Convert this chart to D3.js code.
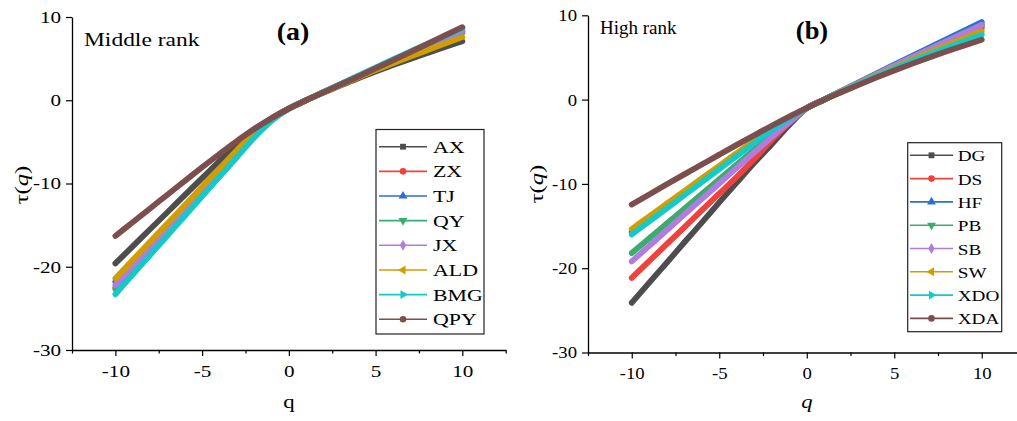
<!DOCTYPE html>
<html>
<head>
<meta charset="utf-8">
<script src="https://cdn.jsdelivr.net/npm/d3@7"></script>
<style>
  html, body { margin: 0; padding: 0; background: #fff; }
  svg { display: block; }
  text { font-family: "Liberation Serif", "Times New Roman", serif; fill: #000; }
</style>
</head>
<body>
<svg id="chart" width="1017" height="421"></svg>
<script>
// ---------------- data ----------------
const qValues = [-10,-9,-8,-7,-6,-5,-4,-3,-2,-1,0,1,2,3,4,5,6,7,8,9,10];

// Panel (a) Middle rank
const seriesNamesA = ["AX","ZX","TJ","QY","JX","ALD","BMG","QPY"];
const AX  = [-19.6,-17.55,-15.5,-13.45,-11.4,-9.35,-7.3,-5.3,-3.55,-2.15,-1.0,0,0.92,1.8,2.65,3.45,4.22,4.96,5.68,6.39,7.1];
const ZX  = [-22.5,-20.17,-17.84,-15.51,-13.18,-10.85,-8.52,-6.22,-4.08,-2.33,-1.0,0,0.96,1.9,2.83,3.74,4.63,5.51,6.38,7.24,8.1];
const TJ  = [-21.8,-19.55,-17.3,-15.05,-12.8,-10.55,-8.3,-6.1,-4.0,-2.3,-1.0,0,0.97,1.93,2.88,3.81,4.72,5.62,6.51,7.4,8.28];
const QY  = [-22.7,-20.35,-18.0,-15.65,-13.3,-10.95,-8.6,-6.3,-4.1,-2.35,-1.0,0,0.96,1.91,2.85,3.77,4.68,5.58,6.46,7.33,8.2];
const JX  = [-22.2,-19.9,-17.6,-15.3,-13.0,-10.7,-8.4,-6.15,-4.05,-2.3,-1.0,0,0.97,1.94,2.9,3.84,4.76,5.67,6.57,7.46,8.35];
const ALD = [-21.4,-19.2,-17.0,-14.8,-12.6,-10.4,-8.2,-6.0,-3.9,-2.25,-1.0,0,0.94,1.86,2.76,3.62,4.45,5.25,6.03,6.8,7.58];
const BMG = [-23.3,-20.95,-18.6,-16.25,-13.9,-11.55,-9.2,-6.85,-4.5,-2.5,-1.0,0,0.99,1.98,2.96,3.93,4.9,5.85,6.79,7.7,8.6];
const QPY = [-16.3,-14.65,-13.0,-11.35,-9.7,-8.05,-6.45,-4.9,-3.45,-2.15,-1.0,0,0.95,1.9,2.85,3.82,4.8,5.78,6.78,7.78,8.78];

// Panel (b) High rank
const seriesNamesB = ["DG","DS","HF","PB","SB","SW","XDO","XDA"];
const DG  = [-24.1,-21.7,-19.35,-16.95,-14.6,-12.2,-9.85,-7.5,-5.3,-3.0,-1.0,0,1.02,2.02,3.01,3.99,4.96,5.92,6.88,7.84,8.8];
const DS  = [-21.15,-19.15,-17.15,-15.15,-13.15,-11.15,-9.15,-7.05,-4.8,-2.75,-1.0,0,1.0,1.98,2.95,3.9,4.84,5.77,6.69,7.6,8.5];
const HF  = [-15.7,-14.17,-12.64,-11.11,-9.58,-8.05,-6.52,-5.0,-3.55,-2.2,-1.0,0,1.05,2.09,3.12,4.14,5.16,6.17,7.18,8.19,9.2];
const PB  = [-18.2,-16.45,-14.7,-12.95,-11.2,-9.45,-7.7,-5.95,-4.25,-2.6,-1.0,0,1.03,2.05,3.05,4.04,5.02,5.99,6.96,7.93,8.9];
const SB  = [-19.2,-17.35,-15.5,-13.65,-11.8,-9.95,-8.1,-6.25,-4.45,-2.7,-1.0,0,1.02,2.03,3.03,4.02,5.0,5.97,6.93,7.89,8.85];
const SW  = [-15.35,-13.85,-12.35,-10.85,-9.35,-7.85,-6.35,-4.9,-3.5,-2.2,-1.0,0,0.97,1.93,2.87,3.79,4.7,5.59,6.46,7.29,8.1];
const XDO = [-16.0,-14.45,-12.9,-11.35,-9.8,-8.25,-6.7,-5.15,-3.65,-2.25,-1.0,0,0.95,1.88,2.79,3.67,4.53,5.36,6.16,6.94,7.7];
const XDA = [-12.45,-11.25,-10.05,-8.87,-7.7,-6.53,-5.37,-4.23,-3.1,-2.02,-1.0,0,0.9,1.78,2.63,3.45,4.24,5.0,5.73,6.43,7.1];

const xMajorTicks = [-10,-5,0,5,10];
const xMinorTicks = [-12.5,-7.5,-2.5,2.5,7.5,12.5];
const yTicks = [-30,-20,-10,0,10];
const xDomain = [-12.5, 12.5];
const yDomain = [-30, 10];

const colors = ["#4d4d4d","#f0423c","#2a6fd6","#3cab6e","#b07ce0","#d09e00","#17c8c8","#7c4e4e"];
const markerKinds = ["square","circle","up","down","diamond","left","right","circle"];

// ---------------- drawing ----------------
const svg = d3.select("#chart");

const panels = [
  { names: seriesNamesA, values: [AX,ZX,TJ,QY,JX,ALD,BMG,QPY],
    x0: 72, x1: 505.7, yTop: 17, yBot: 350,
    tickFont: 16, tickSx: 1.32,
    title: "(a)", titleX: 293, titleY: 40, titleSx: 1.12,
    note: "Middle rank", noteX: 84, noteY: 45.5, noteFont: 18.5, noteSx: 1.27,
    yLabX: 28, yLabY: 185, xLab: "q", xLabItalic: false, xLabX: 289,
    legend: { x0: 376, x1: 484, y0: 129.5, y1: 334, row0: 146.7, step: 24.65,
              l0: 379, l1: 427, tx: 433, font: 17.5, sx: 1.25 } },
  { names: seriesNamesB, values: [DG,DS,HF,PB,SB,SW,XDO,XDA],
    x0: 588, x1: 1025.5, yTop: 15.3, yBot: 352.5,
    tickFont: 16, tickSx: 1.17,
    title: "(b)", titleX: 812, titleY: 39, titleSx: 1.06,
    note: "High rank", noteX: 600, noteY: 33.5, noteFont: 19, noteSx: 1.0,
    yLabX: 543, yLabY: 184, xLab: "q", xLabItalic: true, xLabX: 807,
    legend: { x0: 907.7, x1: 1001.7, y0: 142.7, y1: 331.7, row0: 155.3, step: 23.3,
              l0: 910, l1: 953, tx: 957.7, font: 15.5, sx: 1.24 } }
];

function markerPath(kind, size) {
  const map = { square: d3.symbolSquare, circle: d3.symbolCircle, up: d3.symbolTriangle,
                down: d3.symbolTriangle, left: d3.symbolTriangle, right: d3.symbolTriangle,
                diamond: d3.symbolDiamond };
  return d3.symbol().type(map[kind]).size(size)();
}
function markerRot(kind) {
  return kind === "down" ? 180 : kind === "left" ? -90 : kind === "right" ? 90 : 0;
}

panels.forEach(p => {
  const x = d3.scaleLinear().domain(xDomain).range([p.x0, p.x1]);
  const y = d3.scaleLinear().domain(yDomain).range([p.yBot, p.yTop]);
  const g = svg.append("g");

  // series
  const line = d3.line()
    .x((d, i) => x(qValues[i]))
    .y(d => y(d))
    .curve(d3.curveMonotoneX);
  p.values.forEach((vals, k) => {
    g.append("path")
      .attr("d", line(vals))
      .attr("fill", "none")
      .attr("stroke", colors[k])
      .attr("stroke-width", 5.8)
      .attr("stroke-linecap", "round")
      .attr("stroke-linejoin", "round");
  });

  // x axis (major ticks with labels)
  const xAxisG = g.append("g").attr("transform", `translate(0,${p.yBot})`);
  xAxisG.call(d3.axisBottom(x).tickValues(xMajorTicks).tickSize(6).tickSizeOuter(0));
  xAxisG.selectAll("path.domain").attr("stroke", "#000").attr("stroke-width", 1.3);
  xAxisG.selectAll(".tick line").attr("stroke", "#000").attr("stroke-width", 1.2);
  xAxisG.selectAll(".tick text")
    .attr("y", 27).attr("dy", 0)
    .attr("transform", `scale(${p.tickSx},1)`)
    .style("font-size", p.tickFont + "px")
    .style("font-family", '"Liberation Serif", serif')
    .text(d => d < 0 ? "-" + Math.abs(d) : String(d));
  // minor ticks (no labels)
  const xMinorG = g.append("g").attr("transform", `translate(0,${p.yBot})`);
  xMinorG.call(d3.axisBottom(x).tickValues(xMinorTicks).tickSize(3.5).tickFormat(() => ""));
  xMinorG.select(".domain").remove();
  xMinorG.selectAll(".tick text").remove();
  xMinorG.selectAll(".tick line").attr("stroke", "#000").attr("stroke-width", 1.2);

  // y axis
  const yAxisG = g.append("g").attr("transform", `translate(${p.x0},0)`);
  yAxisG.call(d3.axisLeft(y).tickValues(yTicks).tickSize(6).tickSizeOuter(0));
  yAxisG.selectAll("path.domain").attr("stroke", "#000").attr("stroke-width", 1.3);
  yAxisG.selectAll(".tick line").attr("stroke", "#000").attr("stroke-width", 1.2);
  yAxisG.selectAll(".tick text")
    .attr("x", -11 / p.tickSx).attr("dy", "0.34em")
    .attr("transform", `scale(${p.tickSx},1)`)
    .style("font-size", p.tickFont + "px")
    .style("font-family", '"Liberation Serif", serif')
    .text(d => d < 0 ? "-" + Math.abs(d) : String(d));

  // title (a)/(b)
  g.append("text")
    .attr("transform", `translate(${p.titleX},${p.titleY}) scale(${p.titleSx},1)`)
    .attr("text-anchor", "middle")
    .style("font-size", "25px").style("font-weight", "bold")
    .text(p.title);

  // rank note
  g.append("text")
    .attr("transform", `translate(${p.noteX},${p.noteY}) scale(${p.noteSx},1)`)
    .style("font-size", p.noteFont + "px")
    .text(p.note);

  // y label τ(q)
  const yl = g.append("text")
    .attr("transform", `translate(${p.yLabX},${p.yLabY}) rotate(-90) scale(1.3,1)`)
    .attr("text-anchor", "middle")
    .style("font-size", "19px");
  yl.append("tspan").text("τ(");
  yl.append("tspan").style("font-style", "italic").text("q");
  yl.append("tspan").text(")");

  // x label
  g.append("text")
    .attr("transform", `translate(${p.xLabX},408) scale(1.2,1)`)
    .attr("text-anchor", "middle")
    .style("font-size", "19px")
    .style("font-style", p.xLabItalic ? "italic" : "normal")
    .text(p.xLab);

  // legend
  const L = p.legend;
  const lg = g.append("g");
  lg.append("rect")
    .attr("x", L.x0).attr("y", L.y0)
    .attr("width", L.x1 - L.x0).attr("height", L.y1 - L.y0)
    .attr("fill", "#fff").attr("stroke", "#222").attr("stroke-width", 1.2);
  p.names.forEach((name, k) => {
    const ry = L.row0 + k * L.step;
    lg.append("line")
      .attr("x1", L.l0).attr("x2", L.l1).attr("y1", ry).attr("y2", ry)
      .attr("stroke", colors[k]).attr("stroke-width", 1.6);
    lg.append("path")
      .attr("d", markerPath(markerKinds[k], 34))
      .attr("transform", `translate(${(L.l0 + L.l1) / 2},${ry}) rotate(${markerRot(markerKinds[k])})`)
      .attr("fill", colors[k]);
    lg.append("text")
      .attr("transform", `translate(${L.tx},${ry + 6}) scale(${L.sx},1)`)
      .style("font-size", L.font + "px")
      .text(name);
  });
});
</script>
</body>
</html>
